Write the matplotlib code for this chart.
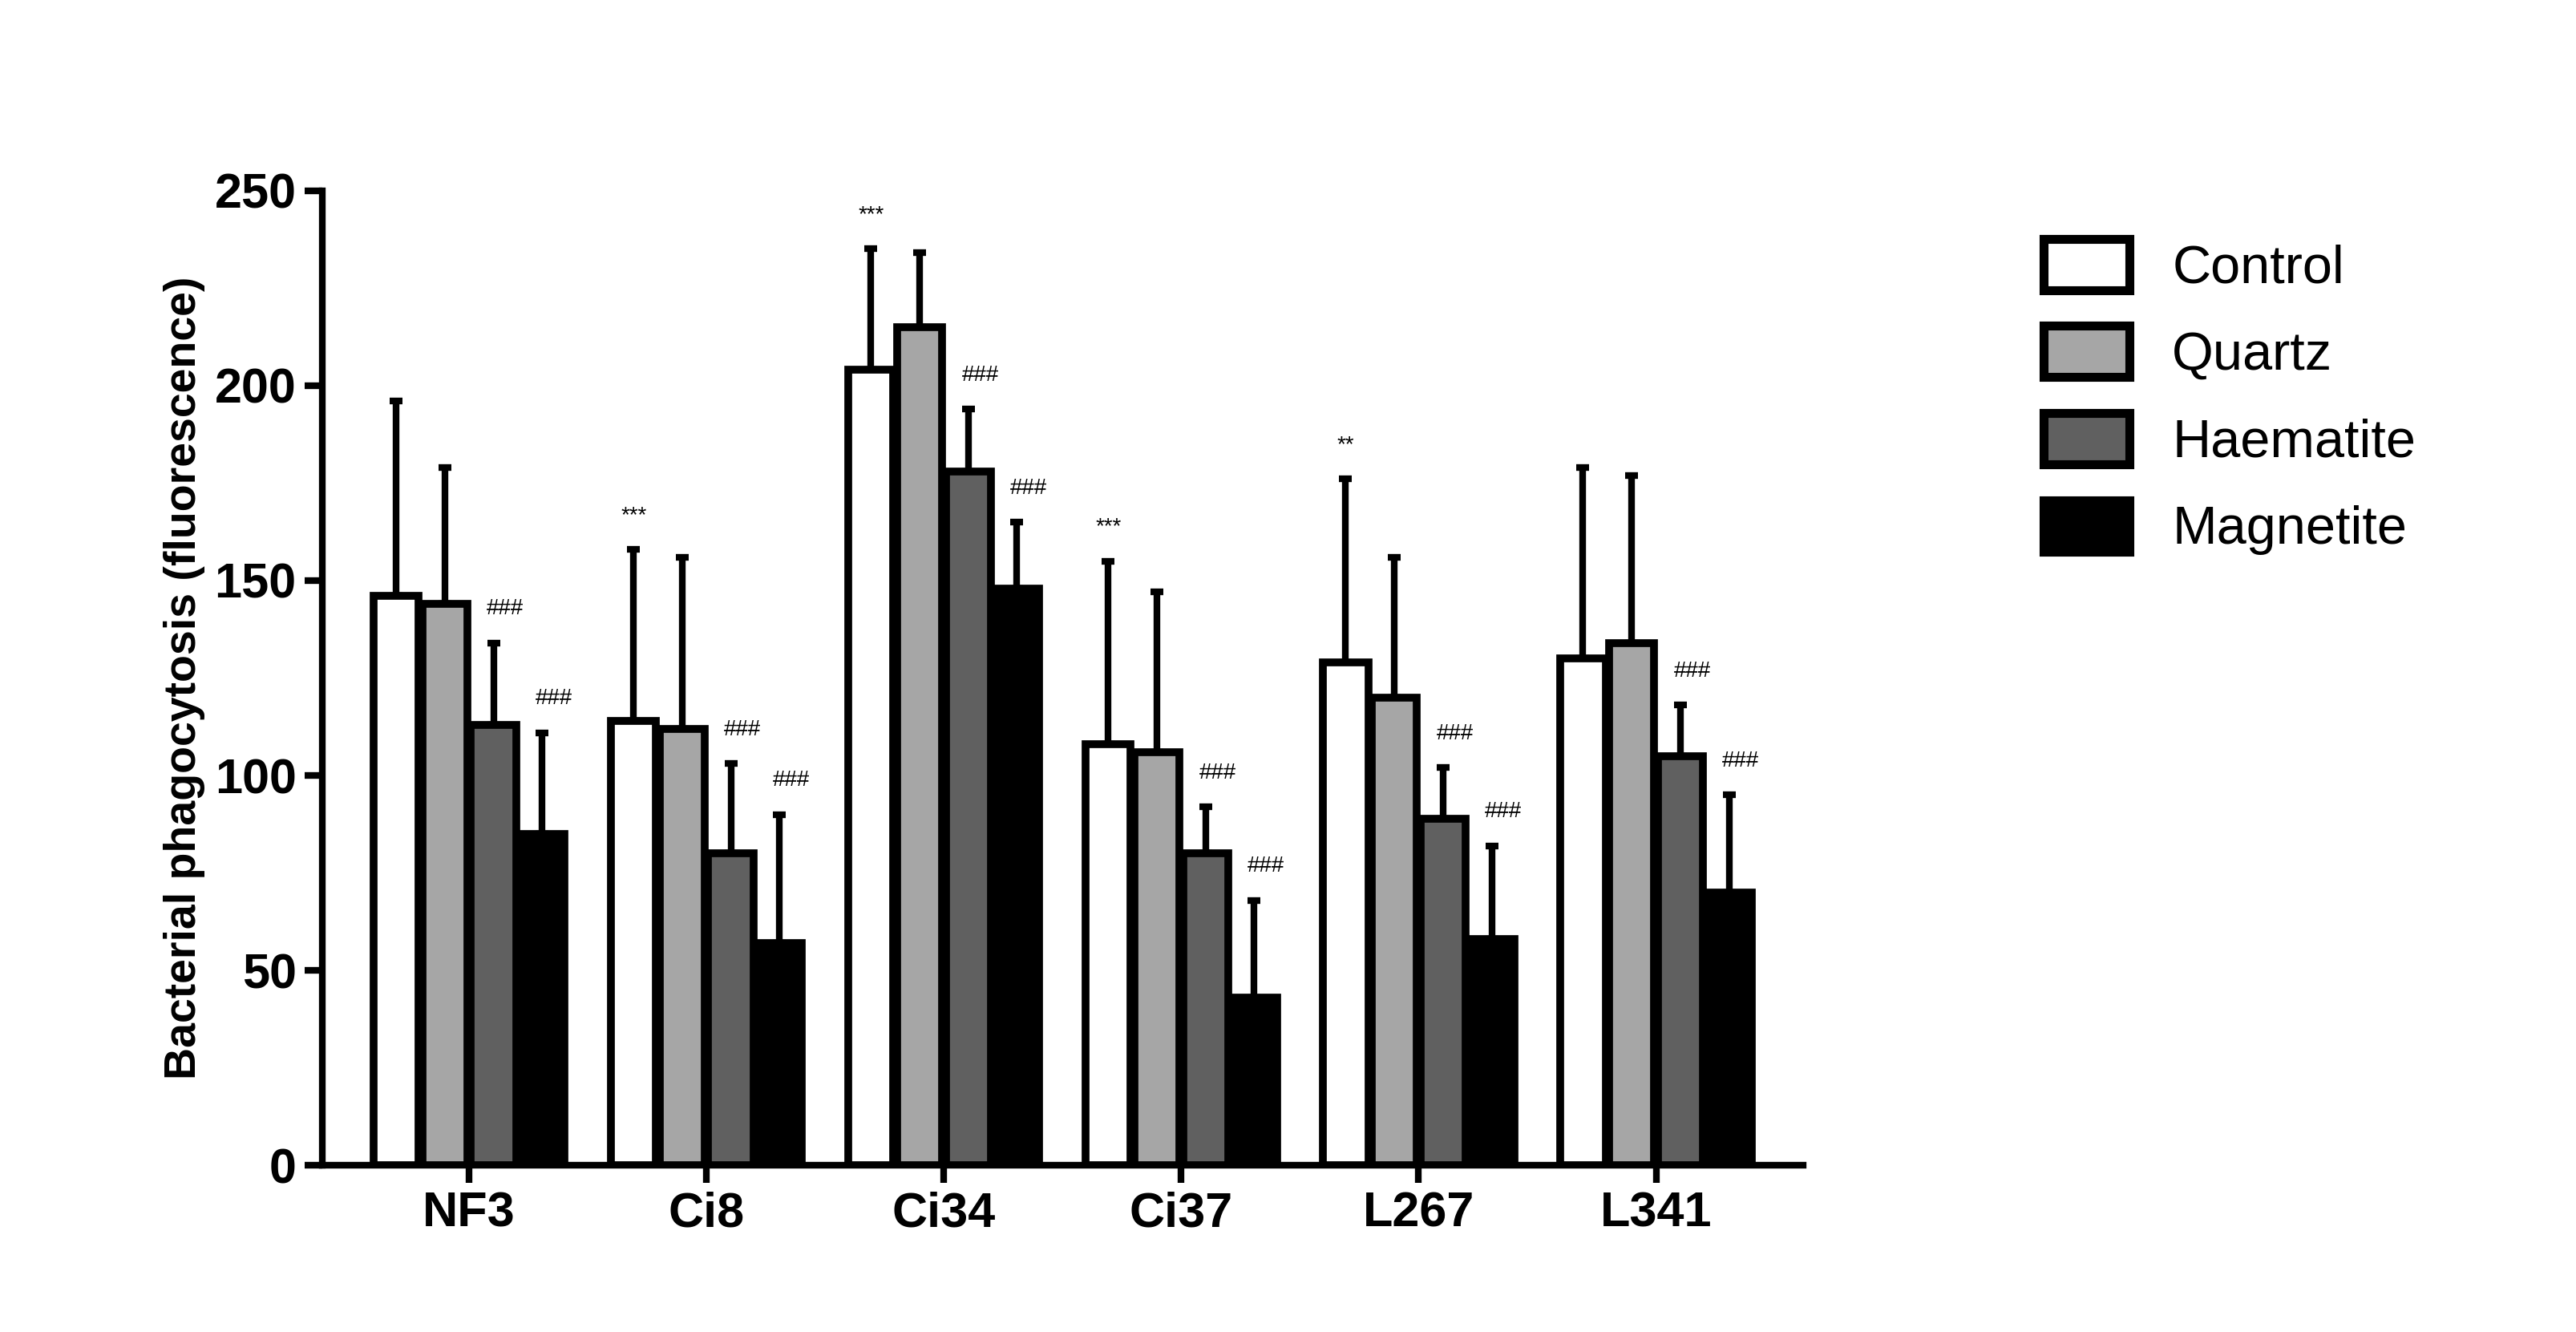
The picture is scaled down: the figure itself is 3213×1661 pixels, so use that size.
import matplotlib
matplotlib.use("Agg")
import matplotlib.pyplot as plt
import numpy as np

strains = ["NF3", "Ci8", "Ci34", "Ci37", "L267", "L341"]
series = ["Control", "Quartz", "Haematite", "Magnetite"]
colors = ["white", "#a6a6a6", "#606060", "black"]
means = {
    "Control":   [146, 114, 204, 108, 129, 130],
    "Quartz":    [144, 112, 215, 106, 120, 134],
    "Haematite": [113, 80, 178, 80, 89, 105],
    "Magnetite": [85, 57, 148, 43, 58, 70],
}
tops = {
    "Control":   [196, 158, 235, 155, 176, 179],
    "Quartz":    [179, 156, 234, 147, 156, 177],
    "Haematite": [134, 103, 194, 92, 102, 118],
    "Magnetite": [111, 90, 165, 68, 82, 95],
}
marks = {
    "Control":   ["", "***", "***", "***", "**", ""],
    "Quartz":    ["", "", "", "", "", ""],
    "Haematite": ["###"] * 6,
    "Magnetite": ["###"] * 6,
}

plt.rcParams['font.family'] = ['Liberation Sans', 'DejaVu Sans']
fig = plt.figure(figsize=(16.065, 8.305), dpi=200)
ax = fig.add_axes([0.125, 0.125, 0.575, 0.732])
x = np.arange(len(strains))
w = 0.19
step = 0.205
for i, s in enumerate(series):
    xs = x + (i - 1.5) * step
    m = np.array(means[s]); t = np.array(tops[s])
    ax.bar(xs, m, w, color=colors[i], edgecolor="black", linewidth=3.5, zorder=2, label=s)
    ax.errorbar(xs, m, yerr=[np.zeros_like(m), t - m], fmt="none", ecolor="black",
                elinewidth=3, capsize=3, capthick=3, zorder=1)
    for xi, ti, lab in zip(xs, t, marks[s]):
        if lab:
            ax.text(xi + (0.05 if lab.startswith("#") else 0), ti + 6, lab,
                    ha="center", va="bottom", fontsize=10)

ax.set_ylim(0, 250)
ax.set_xlim(-0.62, 5.62)
ax.set_yticks([0, 50, 100, 150, 200, 250])
ax.set_xticks(x)
ax.set_xticklabels(strains, fontsize=22, fontweight="bold")
ax.tick_params(axis="y", labelsize=22, width=3, length=8)
ax.tick_params(axis="x", width=3, length=8)
for lab in ax.get_yticklabels():
    lab.set_fontweight("bold")
ax.set_ylabel("Bacterial phagocytosis (fluorescence)", fontsize=20, fontweight="bold")
for sp in ["top", "right"]:
    ax.spines[sp].set_visible(False)
for sp in ["left", "bottom"]:
    ax.spines[sp].set_linewidth(3)
leg = ax.legend(loc="upper left", bbox_to_anchor=(1.13, 1.0), frameon=False, fontsize=24,
                handlelength=1.6, handleheight=1.1, labelspacing=0.6)
for h in leg.legend_handles:
    h.set_linewidth(4)
fig.savefig("out.png", dpi=200)
